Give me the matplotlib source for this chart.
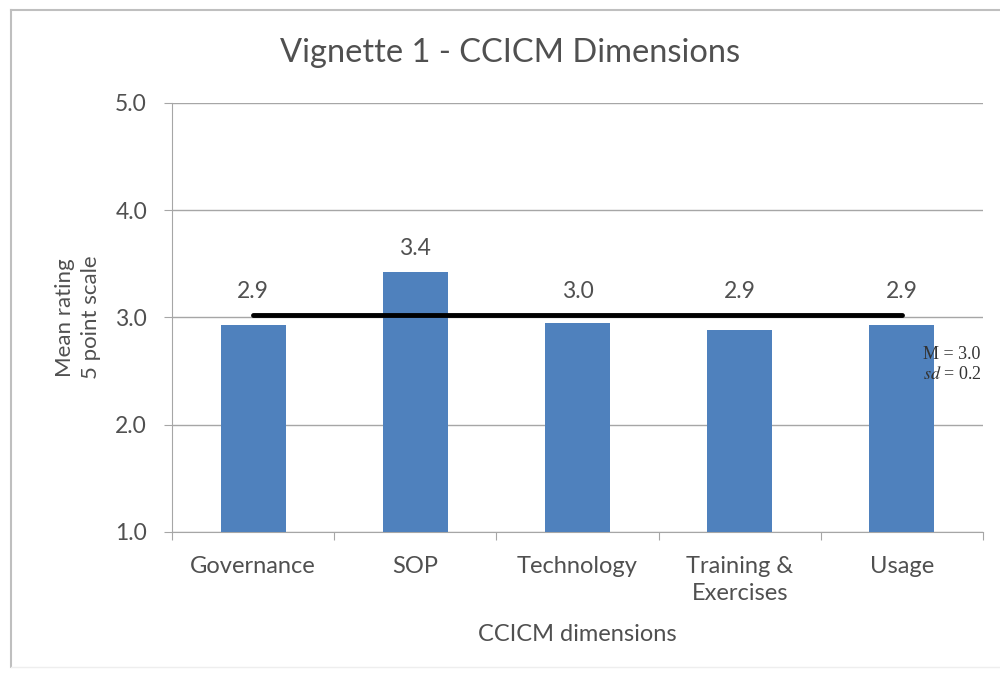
import matplotlib
matplotlib.use("Agg")
import matplotlib.pyplot as plt
from matplotlib.lines import Line2D

categories = ["Governance", "SOP", "Technology", "Training &\nExercises", "Usage"]
means = [2.93, 3.42, 2.95, 2.88, 2.93]
labels = ["2.9", "3.4", "3.0", "2.9", "2.9"]
overall_mean = 3.02
yticks = [1.0, 2.0, 3.0, 4.0, 5.0]

plt.rcParams['font.family'] = ['Lato', 'DejaVu Sans']
plt.rcParams['mathtext.fontset'] = 'stix'
text_color = "#505050"

fig = plt.figure(figsize=(10, 6.75), dpi=100)
ax = fig.add_axes([0.172, 0.2119, 0.811, 0.6356])

x = list(range(len(categories)))
ax.bar(x, means, width=0.4, bottom=0, color="#4F81BD", zorder=3)
ax.set_xlim(-0.5, len(categories) - 0.5)
ax.set_ylim(1.0, 5.0)
ax.set_yticks(yticks)
ax.set_yticklabels([f"{v:.1f}" for v in yticks], fontsize=16.5, color=text_color)
ax.yaxis.grid(True, color="#A6A6A6", linewidth=1, zorder=0)
ax.set_axisbelow(True)

ax.set_xticks([i + 0.5 for i in range(-1, len(categories))])
ax.set_xticklabels([])
ax.set_xticks(x, minor=True)
ax.set_xticklabels(categories, minor=True, fontsize=17, color=text_color, va="top",
                   linespacing=1.35)
ax.tick_params(axis="x", which="minor", length=0, pad=17)
ax.tick_params(axis="x", which="major", length=6, color="#A6A6A6", direction="out")
ax.tick_params(axis="y", length=6, color="#A6A6A6", direction="out", pad=12)

for s in ["top", "right"]:
    ax.spines[s].set_visible(False)
for s in ["left", "bottom"]:
    ax.spines[s].set_color("#A6A6A6")

# mean line
ax.plot([x[0], x[-1]], [overall_mean, overall_mean], color="black", linewidth=3.5, zorder=4,
        solid_capstyle="round")

# value labels
for xi, v, lab in zip(x, means, labels):
    ax.annotate(lab, xy=(xi, max(v, overall_mean)), xytext=(0, 17), textcoords="offset points",
                ha="center", va="center", fontsize=16.5, color=text_color)

ax.text(x[-1] + 0.13, 2.65, "M = 3.0", fontsize=13, family="Liberation Serif", color="#333333",
        ha="left", va="center", zorder=5)
ax.text(x[-1] + 0.13, 2.47, r"$\it{sd}$ = 0.2", fontsize=13, family="Liberation Serif",
        color="#333333", ha="left", va="center", zorder=5)

ax.set_xlabel("CCICM dimensions", fontsize=17, color=text_color, labelpad=15)
ax.set_ylabel("Mean rating\n5 point scale", fontsize=16, color=text_color, labelpad=10,
              linespacing=1.4)

fig.text(0.51, 0.922, "Vignette 1 - CCICM Dimensions", ha="center", va="center",
         fontsize=23.5, color=text_color)

# chart border
fig.add_artist(Line2D([0.011, 0.011], [0.012, 0.985], transform=fig.transFigure, color="#BFBFBF", lw=1.5))
fig.add_artist(Line2D([0.011, 1.0], [0.985, 0.985], transform=fig.transFigure, color="#BFBFBF", lw=1.5))
fig.add_artist(Line2D([0.011, 1.0], [0.012, 0.012], transform=fig.transFigure, color="#EEEEEE", lw=1))

fig.savefig("out.png", dpi=100)
